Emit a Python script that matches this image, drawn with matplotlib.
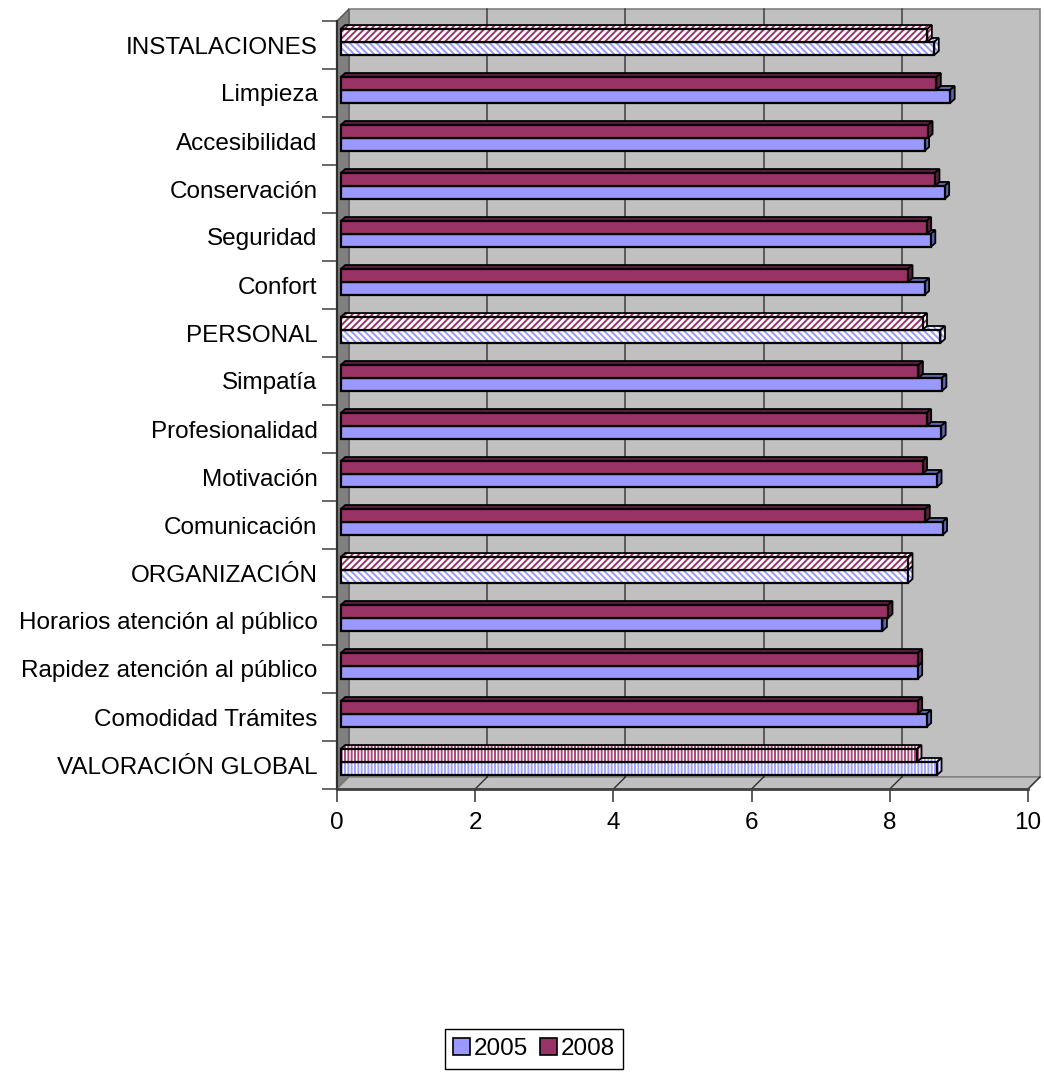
import matplotlib
matplotlib.use("Agg")
import matplotlib.pyplot as plt
from matplotlib.patches import Polygon, Patch
from matplotlib.lines import Line2D

# categories from top to bottom
categories = ["INSTALACIONES", "Limpieza", "Accesibilidad", "Conservación", "Seguridad",
              "Confort", "PERSONAL", "Simpatía", "Profesionalidad", "Motivación",
              "Comunicación", "ORGANIZACIÓN", "Horarios atención al público",
              "Rapidez atención al público", "Comodidad Trámites", "VALORACIÓN GLOBAL"]
v2005 = [8.59, 8.82, 8.45, 8.74, 8.54, 8.45, 8.68, 8.70, 8.69, 8.63, 8.71, 8.21,
         7.84, 8.35, 8.48, 8.63]
v2008 = [8.49, 8.62, 8.50, 8.60, 8.48, 8.21, 8.42, 8.36, 8.48, 8.42, 8.46, 8.21,
         7.92, 8.35, 8.35, 8.34]
# 'sec' = section heading (diagonal hatch), 'glob' = global (vertical hatch)
kinds = ["sec", "", "", "", "", "", "sec", "", "", "", "", "sec", "", "", "", "glob"]
xticks = [0, 2, 4, 6, 8, 10]

C05 = "#9999FF"
C08 = "#993366"
C05_SIDE = "#5F66AE"
C08_SIDE = "#5B1F3F"
WALL = "#C0C0C0"
FS = 17.5

plt.rcParams['font.family'] = ['Liberation Sans', 'DejaVu Sans']
plt.rcParams['hatch.linewidth'] = 1.4

fig = plt.figure(figsize=(10.44, 10.72), dpi=100)
ax = fig.add_axes([337 / 1044, 283 / 1072, 691 / 1044, 768 / 1072])
n = len(categories)
ax.set_xlim(0, 10)
ax.set_ylim(n - 0.5, -0.5)
ax.set_facecolor("none")

DEPTH = 12  # pixel depth of the walls


def pt(x, y, dx=0, dy=0):
    X, Y = ax.transData.transform((x, y))
    return tuple(ax.transData.inverted().transform((X + dx, Y + dy)))


ybot, ytop = n - 0.5, -0.5

# back wall, left wall, floor
wall = Polygon([pt(0, ybot, DEPTH, DEPTH), pt(10, ybot, DEPTH, DEPTH),
                pt(10, ytop, DEPTH, DEPTH), pt(0, ytop, DEPTH, DEPTH)],
               closed=True, facecolor=WALL, edgecolor="#808080", lw=1.2,
               clip_on=False, zorder=0)
ax.add_patch(wall)
left = Polygon([(0, ybot), (0, ytop), pt(0, ytop, DEPTH, DEPTH), pt(0, ybot, DEPTH, DEPTH)],
               closed=True, facecolor="#808080", edgecolor="#555555", lw=1,
               clip_on=False, zorder=0.2)
ax.add_patch(left)
floor = Polygon([(0, ybot), (10, ybot), pt(10, ybot, DEPTH, DEPTH), pt(0, ybot, DEPTH, DEPTH)],
                closed=True, facecolor=WALL, edgecolor="#808080", lw=1,
                clip_on=False, zorder=0.2)
ax.add_patch(floor)

for xv in xticks[1:-1]:
    b = pt(xv, ybot, DEPTH, DEPTH)
    t = pt(xv, ytop, DEPTH, DEPTH)
    ax.add_line(Line2D([b[0], t[0]], [b[1], t[1]], color="#404040", lw=1.1,
                       clip_on=False, zorder=0.5))
for xv in xticks[1:]:
    b = pt(xv, ybot, DEPTH, DEPTH)
    ax.add_line(Line2D([xv, b[0]], [ybot, b[1]], color="#303030", lw=1.0,
                       clip_on=False, zorder=0.5))

# bars
BAR_H = 0.27
sx, sy = pt(0, 0, 3.7, 3)
sx, sy = sx - pt(0, 0)[0], sy - pt(0, 0)[1]
BDX, BDY = 4.5, 4


def draw_bar(yc, val, face, side, hatch, hcolor, z):
    y0, y1 = yc - BAR_H / 2, yc + BAR_H / 2  # y0 is the upper edge (axis inverted)
    x0 = sx
    x1 = sx + val
    top = [(x0, y0), (x1, y0), pt(x1, y0, BDX, BDY), pt(x0, y0, BDX, BDY)]
    sid = [(x1, y1), (x1, y0), pt(x1, y0, BDX, BDY), pt(x1, y1, BDX, BDY)]
    for poly in (top, sid):
        if hatch:
            ax.add_patch(Polygon(poly, closed=True, facecolor="white", edgecolor=hcolor,
                                 hatch=hatch, lw=0, clip_on=False, zorder=z))
            ax.add_patch(Polygon(poly, closed=True, facecolor="none", edgecolor="black",
                                 lw=1.3, clip_on=False, zorder=z))
        else:
            ax.add_patch(Polygon(poly, closed=True, facecolor=side, edgecolor="black",
                                 lw=1.3, clip_on=False, zorder=z))
    if hatch:
        ax.barh(yc, val, height=BAR_H, left=x0, color="white", edgecolor=hcolor,
                hatch=hatch, lw=0, zorder=z + 0.1, clip_on=False)
        ax.barh(yc, val, height=BAR_H, left=x0, color="none", edgecolor="black",
                lw=1.6, zorder=z + 0.2, clip_on=False)
    else:
        ax.barh(yc, val, height=BAR_H, left=x0, color=face, edgecolor="black",
                lw=1.6, zorder=z + 0.1, clip_on=False)


for i in range(n):
    yc = i + sy
    k = kinds[i]
    if k == "sec":
        h05, h08 = "\\" * 5, "/" * 5
        hc05, hc08 = C05, C08
    elif k == "glob":
        h05, h08 = "|" * 5, "|" * 5
        hc05, hc08 = "#A0A0FF", "#A8497A"
    else:
        h05 = h08 = None
        hc05 = hc08 = None
    draw_bar(yc + BAR_H / 2, v2005[i], C05, C05_SIDE, h05, hc05, 2)
    draw_bar(yc - BAR_H / 2, v2008[i], C08, C08_SIDE, h08, hc08, 3)

# axes styling
for s in ("top", "right"):
    ax.spines[s].set_visible(False)
ax.spines["left"].set_color("#303030")
ax.spines["left"].set_linewidth(1.6)
ax.spines["bottom"].set_color("#404040")
ax.spines["bottom"].set_linewidth(2.0)
ax.spines["left"].set_zorder(5)
ax.spines["bottom"].set_zorder(5)

ax.set_yticks([i - 0.5 for i in range(n + 1)])
ax.set_yticklabels([])
ax.set_yticks(range(n), minor=True)
ax.set_yticklabels(categories, minor=True, fontsize=FS)
ax.tick_params(axis="y", which="major", length=11, width=1.1, color="#404040", direction="out")
ax.tick_params(axis="y", which="minor", length=0, pad=14)

ax.set_xticks(xticks)
ax.set_xticklabels([str(t) for t in xticks], fontsize=FS)
ax.tick_params(axis="x", length=9.5, width=1.1, color="#303030", direction="out", pad=7)

handles = [Patch(facecolor=C05, edgecolor="black", lw=1.2),
           Patch(facecolor=C08, edgecolor="black", lw=1.2)]
leg = fig.legend(handles, ["2005", "2008"], loc="center",
                 bbox_to_anchor=(534 / 1044, 1 - 1049 / 1072), ncol=2, fontsize=FS,
                 frameon=True, fancybox=False, edgecolor="black", framealpha=1,
                 handlelength=0.7, handleheight=0.7, handletextpad=0.15,
                 columnspacing=0.5, borderpad=0.35, borderaxespad=0)
leg.get_frame().set_linewidth(1.0)

fig.savefig("out.png", dpi=100)
